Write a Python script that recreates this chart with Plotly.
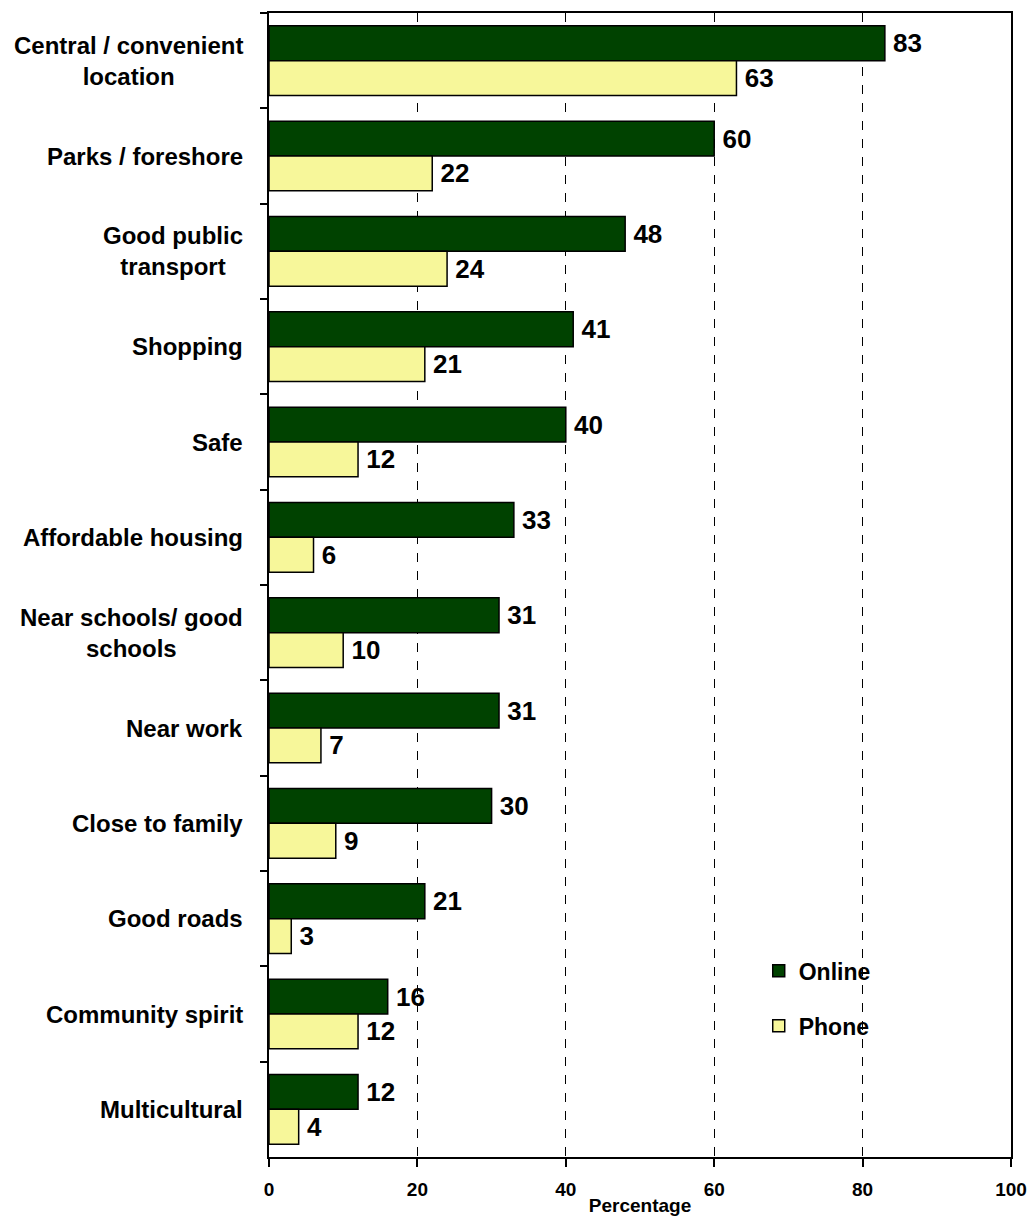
import plotly.graph_objects as go

# Reasons for liking the area, by survey mode (percentage of respondents)
categories = [
    "Central / convenient<br>location",
    "Parks / foreshore",
    "Good public<br>transport",
    "Shopping",
    "Safe",
    "Affordable housing",
    "Near schools/ good<br>schools",
    "Near work",
    "Close to family",
    "Good roads",
    "Community spirit",
    "Multicultural",
]
online = [83, 60, 48, 41, 40, 33, 31, 31, 30, 21, 16, 12]
phone = [63, 22, 24, 21, 12, 6, 10, 7, 9, 3, 12, 4]
x_ticks = [0, 20, 40, 60, 80, 100]

FONT = "Arial, Liberation Sans, sans-serif"
VALUE_FMT = "\u2009<b>%{x}</b>"

fig = go.Figure()
fig.add_trace(go.Bar(
    name="<b>Online</b>", y=categories, x=online, orientation="h",
    marker=dict(color="#004200", line=dict(color="black", width=1.5)),
    text=online, texttemplate=VALUE_FMT, textposition="outside",
    cliponaxis=False,
    textfont=dict(family=FONT, size=26, color="black"),
    legendgroup="online",
))
fig.add_trace(go.Bar(
    name="<b>Phone</b>", y=categories, x=phone, orientation="h",
    marker=dict(color="#f7f79a", line=dict(color="black", width=1.5)),
    text=phone, texttemplate=VALUE_FMT, textposition="outside",
    cliponaxis=False,
    textfont=dict(family=FONT, size=26, color="black"),
    legendgroup="phone",
))

# Category labels, centred line by line, to the left of the axis
for cat in categories:
    fig.add_annotation(
        x=0, xref="paper", xanchor="right", xshift=-24,
        y=cat, yref="y", yanchor="middle",
        text="<b>" + cat + "</b>", showarrow=False, align="center",
        font=dict(family=FONT, size=24, color="black"),
    )

fig.update_layout(
    width=1035, height=1219,
    margin=dict(l=269, r=24, t=13, b=62),
    paper_bgcolor="white", plot_bgcolor="white",
    barmode="group", bargap=0.27, bargroupgap=0,
    font=dict(family=FONT, color="black"),
    uniformtext=dict(minsize=26, mode="show"),
    legend=dict(
        x=0.66, xanchor="left", y=0.1815, yanchor="top",
        font=dict(family=FONT, size=23, color="black"),
        tracegroupgap=22, bgcolor="rgba(0,0,0,0)",
        traceorder="grouped",
    ),
    xaxis=dict(
        range=[0, 100], tickvals=x_ticks,
        ticktext=["<b>%d</b>" % v for v in x_ticks],
        tickfont=dict(family=FONT, size=19, color="black"),
        ticks="outside", ticklen=8, tickwidth=1.5, tickcolor="black",
        ticklabelstandoff=6, automargin=False,
        showline=True, linecolor="black", linewidth=2, mirror=True,
        showgrid=True, gridcolor="black", gridwidth=1, griddash="dash",
        zeroline=False,
        title=dict(text="<b>Percentage</b>", standoff=0,
                   font=dict(family=FONT, size=19, color="black")),
    ),
    yaxis=dict(
        autorange="reversed", type="category",
        showticklabels=False, automargin=False,
        ticks="outside", ticklen=7, tickwidth=1.5, tickcolor="black",
        tickson="boundaries",
        showline=True, linecolor="black", linewidth=2, mirror=True,
        showgrid=False, zeroline=False,
    ),
)

fig.write_html("out.html")
